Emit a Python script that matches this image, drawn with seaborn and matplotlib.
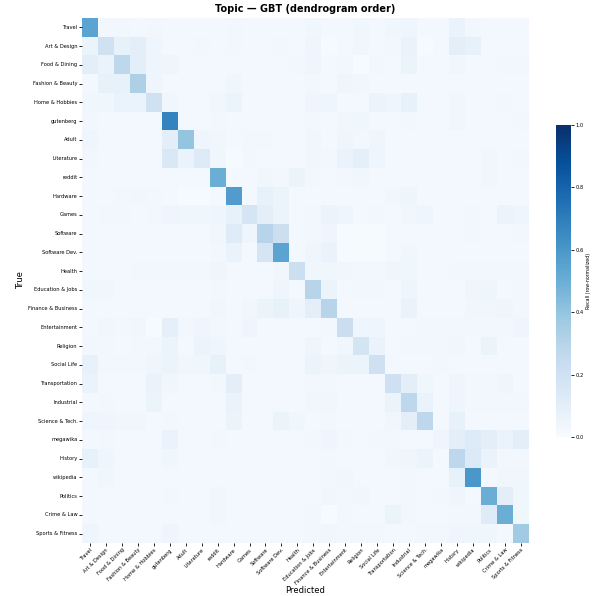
import numpy as np
import pandas as pd
import matplotlib
matplotlib.use("Agg")
import matplotlib.pyplot as plt
import seaborn as sns

topics = [
    "Travel", "Art & Design", "Food & Dining", "Fashion & Beauty", "Home & Hobbies",
    "gutenberg", "Adult", "Literature", "reddit", "Hardware", "Games", "Software",
    "Software Dev.", "Health", "Education & Jobs", "Finance & Business",
    "Entertainment", "Religion", "Social Life", "Transportation", "Industrial",
    "Science & Tech.", "megawika", "History", "wikipedia", "Politics",
    "Crime & Law", "Sports & Fitness",
]

# row-normalized recall, rows = true topic, columns = predicted topic
recall = [
    [0.55,0.03,0.03,0.02,0.03,0.02,0.02,0.02,0.02,0.03,0.02,0.02,0.02,0.02,0.04,0.02,0.02,0.04,0.02,0.04,0.05,0.02,0.02,0.07,0.03,0.02,0.02,0.02],
    [0.06,0.20,0.08,0.10,0.05,0.02,0.02,0.03,0.02,0.03,0.02,0.02,0.03,0.02,0.05,0.01,0.02,0.04,0.02,0.03,0.07,0.01,0.02,0.10,0.08,0.02,0.02,0.02],
    [0.10,0.07,0.28,0.10,0.05,0.05,0.02,0.02,0.02,0.02,0.02,0.02,0.02,0.03,0.05,0.02,0.03,0.01,0.03,0.02,0.06,0.02,0.02,0.04,0.02,0.02,0.03,0.03],
    [0.02,0.08,0.08,0.33,0.05,0.02,0.02,0.02,0.02,0.04,0.02,0.02,0.02,0.02,0.03,0.02,0.05,0.04,0.02,0.02,0.02,0.02,0.02,0.02,0.02,0.02,0.02,0.02],
    [0.04,0.04,0.07,0.07,0.20,0.04,0.02,0.02,0.04,0.06,0.02,0.02,0.02,0.02,0.05,0.05,0.02,0.02,0.06,0.05,0.08,0.02,0.02,0.04,0.02,0.02,0.03,0.02],
    [0.03,0.02,0.02,0.02,0.02,0.68,0.02,0.02,0.03,0.02,0.02,0.02,0.02,0.02,0.03,0.02,0.04,0.04,0.02,0.02,0.03,0.02,0.02,0.04,0.02,0.02,0.02,0.03],
    [0.05,0.02,0.02,0.02,0.02,0.10,0.40,0.05,0.04,0.02,0.03,0.03,0.02,0.02,0.04,0.02,0.05,0.03,0.05,0.02,0.02,0.02,0.02,0.02,0.02,0.02,0.02,0.02],
    [0.03,0.02,0.02,0.02,0.02,0.15,0.07,0.13,0.04,0.01,0.03,0.02,0.02,0.02,0.04,0.03,0.07,0.09,0.05,0.02,0.02,0.02,0.02,0.02,0.02,0.04,0.02,0.03],
    [0.02,0.02,0.02,0.02,0.02,0.02,0.02,0.02,0.50,0.02,0.02,0.04,0.03,0.06,0.03,0.02,0.03,0.04,0.02,0.02,0.02,0.02,0.02,0.02,0.02,0.04,0.02,0.02],
    [0.02,0.02,0.03,0.04,0.03,0.02,0.01,0.01,0.02,0.58,0.02,0.08,0.06,0.02,0.02,0.02,0.02,0.02,0.02,0.04,0.05,0.02,0.02,0.02,0.02,0.02,0.02,0.02],
    [0.02,0.03,0.03,0.02,0.03,0.05,0.04,0.04,0.05,0.08,0.17,0.10,0.06,0.02,0.03,0.06,0.05,0.02,0.03,0.02,0.04,0.05,0.02,0.02,0.03,0.02,0.06,0.05],
    [0.02,0.02,0.02,0.02,0.02,0.02,0.02,0.02,0.04,0.12,0.05,0.30,0.22,0.02,0.03,0.05,0.01,0.01,0.01,0.02,0.02,0.02,0.02,0.02,0.03,0.02,0.02,0.03],
    [0.02,0.02,0.02,0.02,0.02,0.02,0.02,0.02,0.03,0.07,0.02,0.17,0.55,0.02,0.05,0.07,0.01,0.01,0.01,0.02,0.04,0.02,0.02,0.02,0.02,0.02,0.02,0.02],
    [0.02,0.02,0.02,0.03,0.03,0.03,0.03,0.03,0.05,0.02,0.02,0.02,0.04,0.22,0.04,0.04,0.04,0.03,0.03,0.05,0.04,0.02,0.02,0.03,0.03,0.03,0.03,0.03],
    [0.04,0.04,0.02,0.02,0.02,0.02,0.02,0.02,0.03,0.02,0.02,0.02,0.05,0.02,0.30,0.06,0.02,0.03,0.03,0.02,0.05,0.02,0.02,0.02,0.05,0.05,0.02,0.03],
    [0.02,0.02,0.02,0.02,0.02,0.02,0.02,0.02,0.04,0.02,0.04,0.06,0.08,0.05,0.10,0.30,0.02,0.02,0.02,0.02,0.07,0.02,0.02,0.02,0.04,0.04,0.05,0.03],
    [0.02,0.04,0.03,0.04,0.01,0.09,0.03,0.05,0.03,0.02,0.05,0.02,0.02,0.02,0.02,0.03,0.23,0.05,0.05,0.02,0.02,0.03,0.03,0.03,0.03,0.03,0.03,0.05],
    [0.03,0.03,0.02,0.03,0.03,0.06,0.02,0.06,0.05,0.02,0.02,0.02,0.02,0.02,0.05,0.02,0.04,0.18,0.07,0.02,0.03,0.03,0.03,0.04,0.02,0.06,0.02,0.02],
    [0.08,0.03,0.03,0.03,0.05,0.06,0.04,0.04,0.08,0.02,0.03,0.02,0.02,0.02,0.06,0.05,0.06,0.06,0.21,0.02,0.02,0.02,0.03,0.02,0.02,0.02,0.02,0.02],
    [0.07,0.02,0.02,0.02,0.07,0.04,0.02,0.02,0.03,0.10,0.02,0.02,0.02,0.02,0.03,0.03,0.02,0.02,0.02,0.21,0.10,0.04,0.02,0.05,0.03,0.03,0.05,0.02],
    [0.02,0.03,0.02,0.02,0.06,0.02,0.02,0.02,0.02,0.07,0.02,0.02,0.02,0.02,0.04,0.04,0.02,0.02,0.02,0.06,0.28,0.07,0.02,0.05,0.03,0.03,0.03,0.03],
    [0.05,0.05,0.04,0.04,0.02,0.03,0.02,0.02,0.02,0.06,0.02,0.02,0.06,0.04,0.02,0.03,0.02,0.02,0.02,0.04,0.10,0.28,0.02,0.08,0.02,0.02,0.02,0.02],
    [0.02,0.03,0.02,0.02,0.02,0.07,0.02,0.02,0.03,0.02,0.02,0.02,0.02,0.02,0.03,0.05,0.03,0.02,0.03,0.03,0.02,0.02,0.05,0.10,0.13,0.10,0.07,0.10],
    [0.08,0.05,0.02,0.02,0.02,0.04,0.02,0.02,0.02,0.02,0.02,0.02,0.02,0.02,0.02,0.03,0.02,0.02,0.02,0.04,0.05,0.06,0.02,0.28,0.14,0.07,0.03,0.03],
    [0.02,0.04,0.02,0.02,0.02,0.02,0.02,0.02,0.02,0.02,0.02,0.02,0.02,0.02,0.02,0.03,0.04,0.02,0.02,0.02,0.03,0.02,0.02,0.08,0.60,0.02,0.04,0.04],
    [0.02,0.02,0.02,0.02,0.02,0.03,0.02,0.02,0.04,0.02,0.02,0.02,0.02,0.02,0.02,0.04,0.03,0.04,0.02,0.02,0.03,0.02,0.03,0.05,0.02,0.50,0.10,0.04],
    [0.02,0.02,0.02,0.02,0.02,0.02,0.02,0.02,0.04,0.02,0.02,0.02,0.02,0.02,0.03,0.01,0.03,0.02,0.02,0.06,0.03,0.02,0.02,0.03,0.03,0.12,0.50,0.04],
    [0.05,0.02,0.02,0.02,0.02,0.05,0.02,0.02,0.02,0.02,0.02,0.02,0.02,0.02,0.03,0.04,0.03,0.03,0.03,0.02,0.02,0.03,0.03,0.05,0.04,0.04,0.02,0.37],
]

cm = pd.DataFrame(recall, index=topics, columns=topics)

fig = plt.figure(figsize=(5.93, 5.96), dpi=100)
ax = fig.add_axes([0.138, 0.089, 0.754, 0.881])
cax = fig.add_axes([0.9376, 0.2668, 0.0253, 0.5235])

sns.heatmap(cm, ax=ax, cbar_ax=cax, cmap="Blues", vmin=0, vmax=1,
            xticklabels=True, yticklabels=True, square=False,
            cbar_kws={"label": "Recall (row-normalized)"})

ax.set_title("Topic — GBT (dendrogram order)", fontsize=7, fontweight="bold", pad=4)
ax.set_xlabel("Predicted", fontsize=6, labelpad=0)
ax.set_ylabel("True", fontsize=6, labelpad=2)
ax.tick_params(axis="both", length=2, width=0.6, labelsize=3.7, pad=1.2)
plt.setp(ax.get_xticklabels(), rotation=45, ha="right", rotation_mode="anchor")
plt.setp(ax.get_yticklabels(), rotation=0)

cax.tick_params(labelsize=3.7, length=2, width=0.6, pad=1.2)
cax.set_yticks([0.0, 0.2, 0.4, 0.6, 0.8, 1.0])
cax.set_yticklabels(["0.0", "0.2", "0.4", "0.6", "0.8", "1.0"])
cax.set_ylabel("Recall (row-normalized)", fontsize=3.4, labelpad=1.5)

fig.savefig("out.png", dpi=100)
